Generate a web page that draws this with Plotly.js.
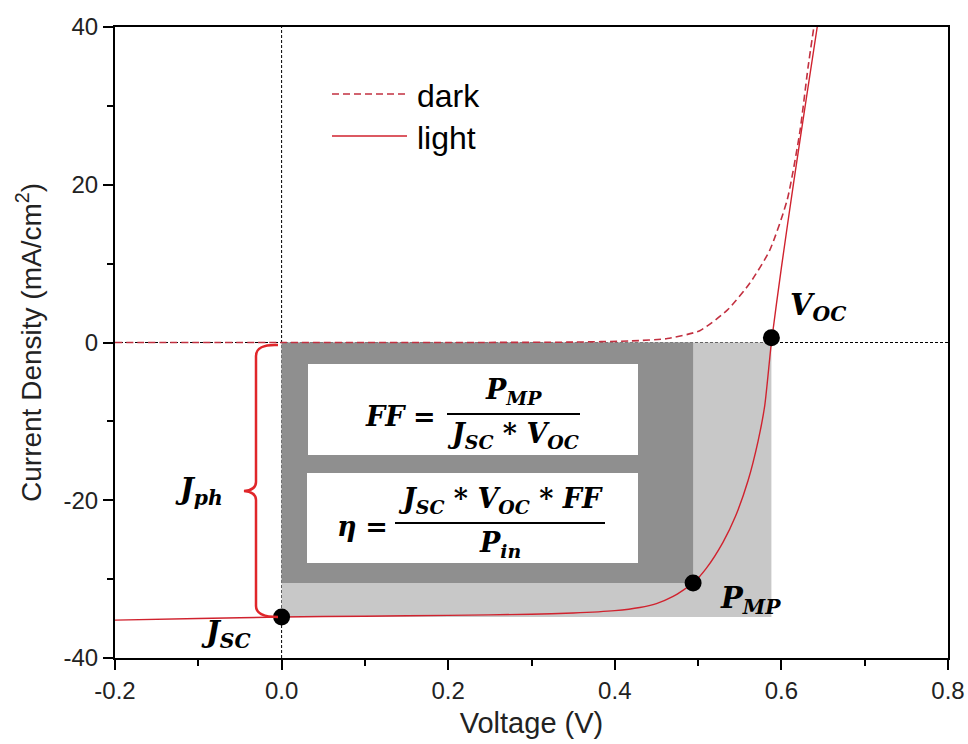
<!DOCTYPE html>
<html>
<head>
<meta charset="utf-8">
<script src="https://cdn.plot.ly/plotly-3.0.1.min.js"></script>
<style>html,body{margin:0;padding:0;background:#fff;}#chart{width:968px;height:744px;}</style>
</head>
<body>
<div id="chart"></div>
<script>
// ---- data ----
const lightV = [-0.2, -0.1, 0.0, 0.1, 0.2, 0.3, 0.35, 0.4, 0.43, 0.45, 0.47, 0.494, 0.51, 0.53, 0.545, 0.56, 0.572, 0.58, 0.588, 0.60, 0.615, 0.63, 0.643];
const lightJ = [-35.2, -35.0, -34.8, -34.7, -34.6, -34.45, -34.3, -34.0, -33.6, -33.1, -32.2, -30.5, -28.6, -25.3, -22.0, -17.5, -12.5, -8.0, 0.0, 9.5, 20.5, 31.0, 40.0];
const darkV = [-0.2, 0.0, 0.2, 0.35, 0.42, 0.463, 0.502, 0.535, 0.562, 0.586, 0.607, 0.622, 0.632, 0.639];
const darkJ = [0, 0, 0, 0.05, 0.2, 0.5, 1.5, 4.1, 7.5, 11.7, 18.1, 26.6, 34.9, 40.0];
const pointNames = ['Jsc', 'Pmp', 'Voc'];
const pointV = [0.0, 0.494, 0.588];
const pointJ = [-34.8, -30.5, 0.6];
const xTickVals = [-0.2, 0.0, 0.2, 0.4, 0.6, 0.8];
const xTickText = ['-0.2', '0.0', '0.2', '0.4', '0.6', '0.8'];
const xMinorVals = [-0.1, 0.1, 0.3, 0.5, 0.7];
const yTickVals = [-40, -20, 0, 20, 40];
const yTickText = ['-40', '-20', '0', '20', '40'];
const yMinorVals = [-30, -10, 10, 30];

// ---- geometry helpers (pixel -> data) ----
const M = {l: 115, r: 20, t: 27, b: 86};
const W = 968, H = 744;
const xr = [-0.2, 0.8], yr = [-40, 40];
const pw = W - M.l - M.r, ph = H - M.t - M.b;
const X = px => xr[0] + (px - M.l) / pw * (xr[1] - xr[0]);
const Y = py => yr[1] - (py - M.t) / ph * (yr[1] - yr[0]);

const Vsc = pointV[0], Jsc = pointJ[0];
const Vmp = pointV[1], Jmp = pointJ[1];
const Voc = pointV[2];

const RED = '#d0222e';
const RED_D = '#c23040';
const SERIF = 'DejaVu Serif';
const SANS = 'Liberation Sans';

const traces = [
  {x: darkV, y: darkJ, name: 'dark', mode: 'lines', line: {color: RED_D, width: 1.6, dash: '7px,4px', shape: 'spline', smoothing: 0.6}, showlegend: false, hoverinfo: 'skip'},
  {x: lightV, y: lightJ, name: 'light', mode: 'lines', line: {color: RED, width: 1.4, shape: 'spline', smoothing: 0.6}, showlegend: false, hoverinfo: 'skip'},
  {x: pointV, y: pointJ, text: pointNames, mode: 'markers', marker: {color: '#000', size: 17}, showlegend: false, hoverinfo: 'skip'}
];

const shapes = [
  // power rectangles
  {type: 'rect', xref: 'x', yref: 'y', x0: 0, x1: Voc, y0: 0, y1: Jsc, fillcolor: '#c8c8c8', line: {width: 0}, layer: 'below'},
  {type: 'rect', xref: 'x', yref: 'y', x0: 0, x1: Vmp, y0: 0, y1: Jmp, fillcolor: '#8f8f8f', line: {width: 0}, layer: 'below'},
  // formula boxes
  {type: 'rect', xref: 'x', yref: 'y', x0: X(308), x1: X(638), y0: Y(364), y1: Y(455), fillcolor: '#fff', line: {width: 0}, layer: 'below'},
  {type: 'rect', xref: 'x', yref: 'y', x0: X(307), x1: X(638), y0: Y(473), y1: Y(563), fillcolor: '#fff', line: {width: 0}, layer: 'below'},
  // dotted reference lines
  {type: 'line', xref: 'paper', yref: 'y', x0: 0, x1: 1, y0: 0, y1: 0, line: {color: '#000', width: 1.2, dash: '3px,2px'}, layer: 'below'},
  {type: 'line', xref: 'x', yref: 'paper', x0: 0, x1: 0, y0: 0, y1: 1, line: {color: '#000', width: 1, dash: '3px,2px'}, layer: 'below'},
  // fraction bars
  {type: 'line', xref: 'x', yref: 'y', x0: X(447), x1: X(580), y0: Y(414), y1: Y(414), line: {color: '#000', width: 2}},
  {type: 'line', xref: 'x', yref: 'y', x0: X(395), x1: X(605), y0: Y(523), y1: Y(523), line: {color: '#000', width: 2}},
  // legend samples
  {type: 'line', xref: 'x', yref: 'y', x0: X(332), x1: X(407), y0: Y(94), y1: Y(94), line: {color: RED_D, width: 1.6, dash: '7px,4px'}},
  {type: 'line', xref: 'x', yref: 'y', x0: X(332), x1: X(407), y0: Y(136), y1: Y(136), line: {color: RED, width: 1.6}},
  // brace for Jph
  {type: 'path', xref: 'x', yref: 'y', line: {color: '#e0262a', width: 2.5},
   path: 'M ' + X(278) + ',' + Y(345) + ' Q ' + X(256) + ',' + Y(344) + ' ' + X(256) + ',' + Y(356) +
         ' L ' + X(256) + ',' + Y(482) + ' Q ' + X(256) + ',' + Y(490) + ' ' + X(244) + ',' + Y(491) +
         ' Q ' + X(256) + ',' + Y(492) + ' ' + X(256) + ',' + Y(500) +
         ' L ' + X(256) + ',' + Y(606) + ' Q ' + X(256) + ',' + Y(617) + ' ' + X(278) + ',' + Y(617)}
];

function ann(text, px, py, size, xa, ya, family) {
  return {text: text, x: X(px), y: Y(py), xref: 'x', yref: 'y', showarrow: false,
          xanchor: xa || 'center', yanchor: ya || 'middle',
          font: {family: family || SERIF, size: size, color: '#000'}};
}
const BI = s => '<b><i>' + s + '</i></b>';

const annotations = [
  ann('dark', 415, 96, 32, 'left', 'middle', SANS),
  ann('light', 415, 138, 32, 'left', 'middle', SANS),
  ann(BI('J<sub>ph</sub>'), 199, 491, 29),
  ann(BI('J<sub>SC</sub>'), 226, 634, 29),
  ann(BI('P<sub>MP</sub>'), 750, 600, 29),
  ann(BI('V<sub>OC</sub>'), 818, 307, 29),
  // FF formula
  ann(BI('FF') + ' <b>=</b>', 438, 416, 27, 'right'),
  ann(BI('P<sub>MP</sub>'), 513, 411, 27, 'center', 'bottom'),
  ann(BI('J<sub>SC</sub> * V<sub>OC</sub>'), 513, 416, 27, 'center', 'top'),
  // efficiency formula
  ann(BI('η') + ' <b>=</b>', 390, 526, 27, 'right'),
  ann(BI('J<sub>SC</sub> * V<sub>OC</sub> * FF'), 500, 520, 27, 'center', 'bottom'),
  ann(BI('P<sub>in</sub>'), 500, 525, 27, 'center', 'top')
];

const axisCommon = {
  showgrid: false, zeroline: false, showline: true, linecolor: '#000', linewidth: 2, mirror: true,
  ticks: 'outside', ticklen: 10, tickwidth: 2, tickcolor: '#000',
  tickfont: {family: SANS, size: 24, color: '#222'},
  fixedrange: true
};

const layout = {
  width: W, height: H,
  margin: M,
  paper_bgcolor: '#fff', plot_bgcolor: '#fff',
  showlegend: false,
  xaxis: Object.assign({}, axisCommon, {
    range: xr, tickmode: 'array', tickvals: xTickVals, ticktext: xTickText,
    minor: {tickmode: 'array', tickvals: xMinorVals, ticks: 'outside', ticklen: 6, tickwidth: 2, tickcolor: '#000', showgrid: false},
    title: {text: 'Voltage (V)', font: {family: SANS, size: 29, color: '#222'}, standoff: 10}
  }),
  yaxis: Object.assign({}, axisCommon, {
    range: yr, tickmode: 'array', tickvals: yTickVals, ticktext: yTickText,
    minor: {tickmode: 'array', tickvals: yMinorVals, ticks: 'outside', ticklen: 6, tickwidth: 2, tickcolor: '#000', showgrid: false},
    title: {text: 'Current Density (mA/cm<sup>2</sup>)', font: {family: SANS, size: 28, color: '#222'}, standoff: 14}
  }),
  shapes: shapes,
  annotations: annotations
};

Plotly.newPlot('chart', traces, layout, {displayModeBar: false, staticPlot: true});
</script>
</body>
</html>
